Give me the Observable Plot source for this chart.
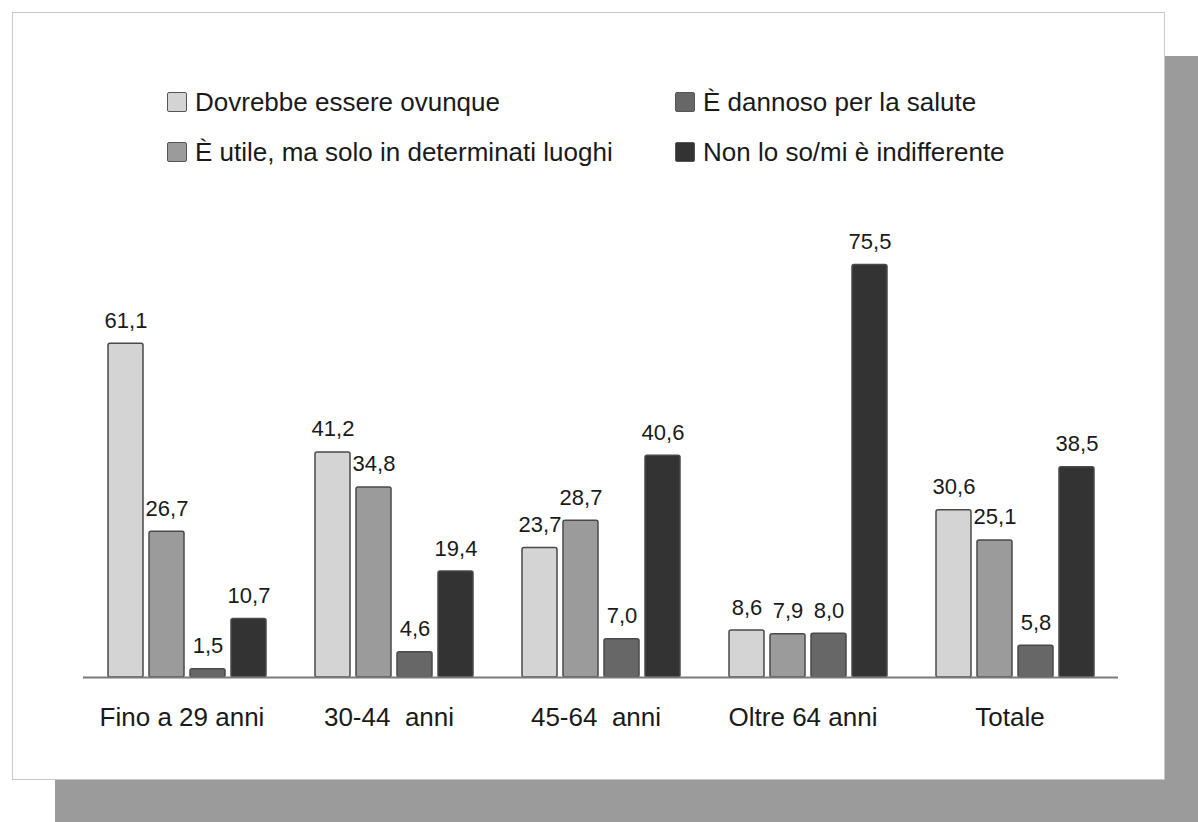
<!DOCTYPE html>
<html>
<head>
<meta charset="utf-8">
<script src="https://cdn.jsdelivr.net/npm/d3@7"></script>
<script src="https://cdn.jsdelivr.net/npm/@observablehq/plot@0.6"></script>
<style>
  html, body { margin: 0; padding: 0; background: #fff; }
  body { width: 1198px; height: 822px; position: relative; overflow: hidden;
         font-family: "Liberation Sans", Arial, Helvetica, sans-serif; }
  #shadow { position: absolute; left: 55px; top: 56px; width: 1143px; height: 766px; background: #9b9b9b; }
  #panel { position: absolute; left: 12px; top: 12px; width: 1153px; height: 768px; background: #fff;
           border: 1px solid #c8c8c8; box-sizing: border-box; }
  .leg { position: absolute; display: flex; align-items: center; font-size: 26px; line-height: 30px; height: 30px; color: #1a1a1a; white-space: pre; }
  .sw { width: 20px; height: 20px; border: 1.5px solid #555; border-radius: 2px; box-sizing: border-box; margin-right: 8px; }
  #chart { position: absolute; left: 0; top: 200px; }
</style>
</head>
<body>
<div id="shadow"></div>
<div id="panel"></div>
<div id="legend"></div>
<div id="chart"></div>
<script>
const groups = ["Fino a 29 anni", "30-44\u00a0 anni", "45-64\u00a0 anni", "Oltre 64 anni", "Totale"];
const series = ["Dovrebbe essere ovunque", "È utile, ma solo in determinati luoghi", "È dannoso per la salute", "Non lo so/mi è indifferente"];
const dovrebbe = [61.1, 41.2, 23.7, 8.6, 30.6];
const utile = [26.7, 34.8, 28.7, 7.9, 25.1];
const dannoso = [1.5, 4.6, 7.0, 8.0, 5.8];
const nonLoSo = [10.7, 19.4, 40.6, 75.5, 38.5];
const colors = ["#d4d4d4", "#9b9b9b", "#676767", "#333333"];

const seriesValues = [dovrebbe, utile, dannoso, nonLoSo];
const data = [];
groups.forEach((g, gi) => {
  series.forEach((s, si) => {
    data.push({group: g, series: s, value: seriesValues[si][gi]});
  });
});

// Legend (HTML)
const legendPos = [
  {left: 167, top: 87}, {left: 167, top: 137},
  {left: 675, top: 87}, {left: 675, top: 137}
];
const legend = document.getElementById("legend");
series.forEach((s, i) => {
  const d = document.createElement("div");
  d.className = "leg";
  d.style.left = legendPos[i].left + "px";
  d.style.top = legendPos[i].top + "px";
  const sw = document.createElement("span");
  sw.className = "sw";
  sw.style.background = colors[i];
  d.appendChild(sw);
  d.appendChild(document.createTextNode(s));
  legend.appendChild(d);
});

const fmt = v => v.toFixed(1).replace(".", ",");

const chart = Plot.plot({
  width: 1198,
  height: 540,
  marginLeft: 81,
  marginRight: 78,
  marginTop: 40,
  marginBottom: 63,
  style: {fontFamily: '"Liberation Sans", Arial, Helvetica, sans-serif', background: "transparent", color: "#1a1a1a"},
  fx: {domain: groups, padding: 0, label: null},
  x: {domain: series, paddingInner: 0.153, paddingOuter: 0.59, axis: null},
  y: {domain: [0, 80], axis: null},
  color: {domain: series, range: colors},
  marks: [
    Plot.barY(data, {fx: "group", x: "series", y: "value", fill: "series", stroke: "#4a4a4a", strokeWidth: 1.5, rx: 2}),
    Plot.ruleY([0], {stroke: "#7a7a7a", strokeWidth: 2}),
    Plot.text(data, {fx: "group", x: "series", y: "value", text: d => fmt(d.value), dy: -23, fontSize: 22, fill: "#1a1a1a"}),
    Plot.axisFx({anchor: "bottom", tickSize: 0, tickPadding: 30, dx: -5, fontSize: 26, label: null})
  ]
});
document.getElementById("chart").appendChild(chart);
</script>
</body>
</html>
